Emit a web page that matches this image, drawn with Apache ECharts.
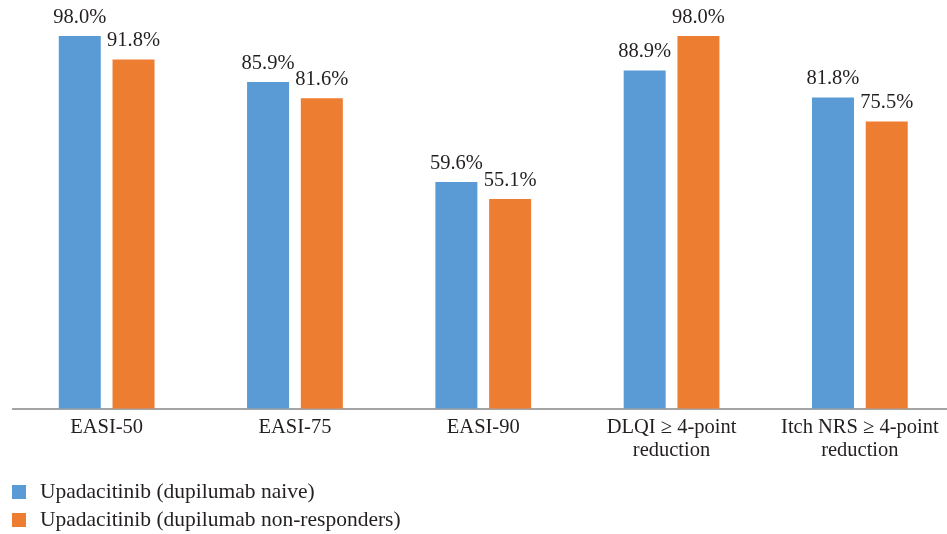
<!DOCTYPE html>
<html>
<head>
<meta charset="utf-8">
<script src="https://cdn.jsdelivr.net/npm/echarts@6/dist/echarts.min.js"></script>
<style>
  html, body { margin: 0; padding: 0; background: #fff; }
  #chart { width: 947px; height: 534px; }
</style>
</head>
<body>
<div id="chart"></div>
<script>
// Outcome categories along the x axis
const categories = [
  'EASI-50',
  'EASI-75',
  'EASI-90',
  'DLQI \u2265 4-point\nreduction',
  'Itch NRS \u2265 4-point\nreduction'
];

// Response rates (%)
const naiveValues = [98.0, 85.9, 59.6, 88.9, 81.8];
const nonResponderValues = [91.8, 81.6, 55.1, 98.0, 75.5];

const seriesNames = [
  'Upadacitinib (dupilumab naive)',
  'Upadacitinib (dupilumab non-responders)'
];

const FONT = '"Liberation Serif", "DejaVu Serif", serif';
const TEXT = '#231f20';

const chart = echarts.init(document.getElementById('chart'), null, { renderer: 'canvas' });

const labelCfg = {
  show: true,
  position: 'top',
  distance: 8,
  formatter: p => p.value.toFixed(1) + '%',
  fontFamily: FONT,
  fontSize: 20.5,
  color: TEXT
};

chart.setOption({
  animation: false,
  backgroundColor: '#ffffff',
  grid: {
    left: 12.5, top: 28.4, width: 941.5, height: 380.1,
    containLabel: false,
    outerBoundsMode: 'none'
  },
  legend: {
    orient: 'vertical',
    left: 12,
    top: 481,
    width: 600,
    height: 53,
    padding: 0,
    icon: 'rect',
    itemWidth: 14,
    itemHeight: 14,
    itemGap: 6,
    textStyle: { fontFamily: FONT, fontSize: 21.5, lineHeight: 21, color: TEXT, padding: [0, 0, 0, 9] },
    data: seriesNames
  },
  xAxis: {
    type: 'category',
    data: categories,
    axisLine: { lineStyle: { color: '#878787', width: 1.5 } },
    axisTick: { show: false },
    axisLabel: {
      fontFamily: FONT,
      fontSize: 20.5,
      color: TEXT,
      margin: 8,
      lineHeight: 23,
      interval: 0
    }
  },
  yAxis: {
    type: 'value',
    min: 0,
    max: 100,
    show: false
  },
  series: [
    {
      name: seriesNames[0],
      type: 'bar',
      data: naiveValues,
      barWidth: 42,
      barGap: '28%',
      itemStyle: { color: '#5b9bd5' },
      label: labelCfg
    },
    {
      name: seriesNames[1],
      type: 'bar',
      data: nonResponderValues,
      barWidth: 42,
      itemStyle: { color: '#ed7d31' },
      label: labelCfg
    }
  ]
});
</script>
</body>
</html>
